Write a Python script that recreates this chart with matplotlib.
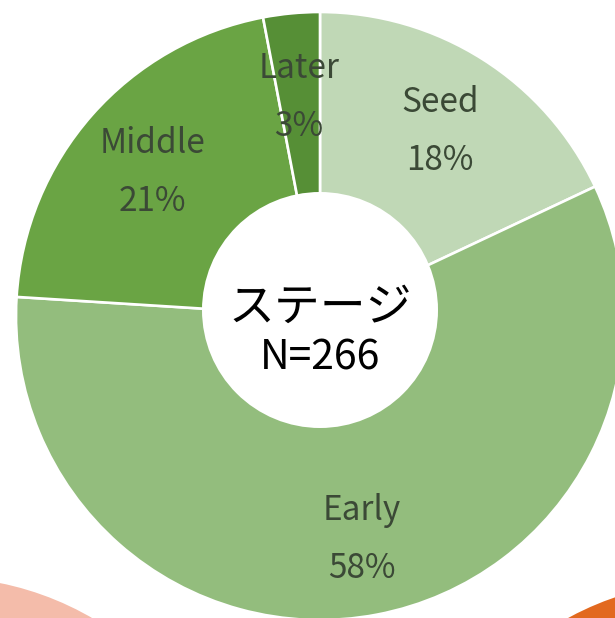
import numpy as np
import matplotlib
matplotlib.use("Agg")
import matplotlib.pyplot as plt
from matplotlib.patches import Circle

plt.rcParams['font.family'] = ['Noto Sans CJK JP', 'DejaVu Sans']

categories = ["Seed", "Early", "Middle", "Later"]
values = [18, 58, 21, 3]
colors = ["#C0D8B6", "#93BD7D", "#6AA444", "#568F36"]
center_title = "ステージ"
center_n = "N=266"

W, H = 615, 618
fig = plt.figure(figsize=(W / 100, H / 100), dpi=100)
ax = fig.add_axes([0, 0, 1, 1])
ax.set_xlim(0, W)
ax.set_ylim(0, H)
ax.set_aspect('equal')
ax.axis('off')

# neighbouring pies peeking in at the bottom corners
ax.add_patch(Circle((-60, H - 880), 304, facecolor="#F4BCAA", edgecolor="white", lw=1.5, zorder=0))
ax.add_patch(Circle((713, H - 884), 304, facecolor="#E2691F", edgecolor="white", lw=1.5, zorder=0))

cx, cy, R = 320, H - 316, 304
wedges, _ = ax.pie(values, colors=colors, startangle=90, counterclock=False,
                   center=(cx, cy), radius=R, frame=True,
                   wedgeprops=dict(edgecolor="white", linewidth=1.9))
ax.set_xlim(0, W)
ax.set_ylim(0, H)
ax.axis('off')

# white hole
ax.add_patch(Circle((cx, H - 310), 118, facecolor="white", edgecolor="none", zorder=5))

txt_color = "#3B4936"
for w, cat, v in zip(wedges, categories, values):
    mid = np.deg2rad((w.theta1 + w.theta2) / 2)
    r = 0.735 * R
    x = cx + r * np.cos(mid)
    y = cy + r * np.sin(mid)
    ax.text(x, y + 29, cat, ha='center', va='center_baseline', fontsize=24,
            color=txt_color, zorder=6)
    ax.text(x, y - 29, f"{v}%", ha='center', va='center_baseline', fontsize=24,
            color=txt_color, zorder=6)

ax.text(cx, H - 321, center_title, ha='center', va='baseline', fontsize=33,
        color="black", zorder=7)
ax.text(cx, H - 370, center_n, ha='center', va='baseline', fontsize=29.5,
        color="black", zorder=7)

fig.savefig("out.png", dpi=100)
